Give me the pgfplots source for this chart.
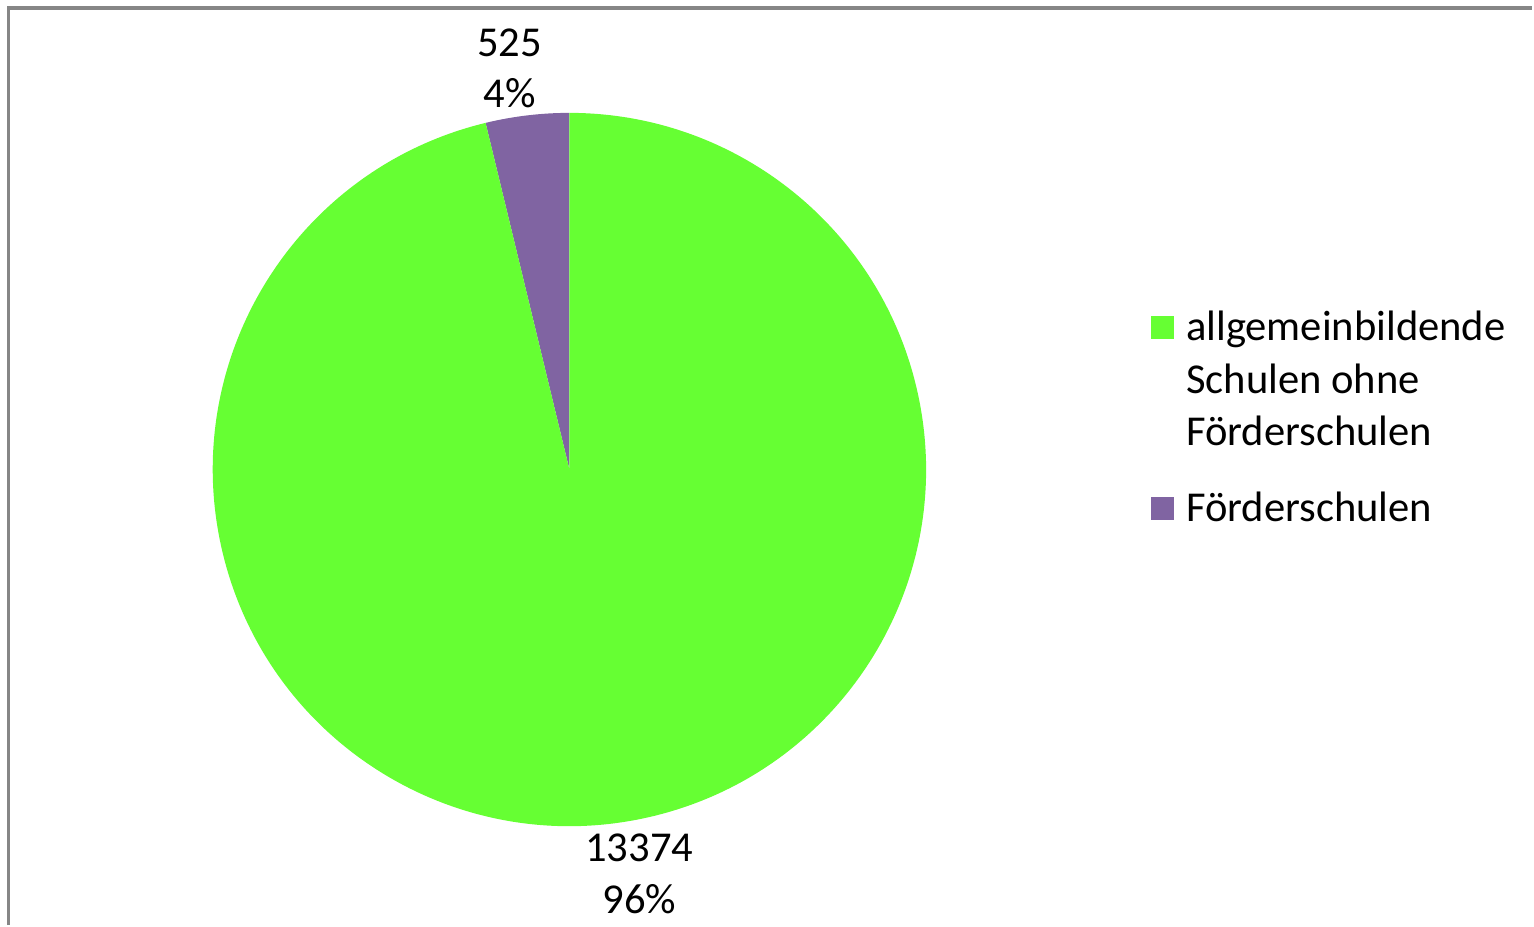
\documentclass[border=0pt]{standalone}
\usepackage{pgfplots}
\usepackage{pgfplotstable}
\usepackage{fontspec}
\setmainfont{Carlito}
\pgfplotsset{compat=1.18}

\definecolor{slicegreen}{HTML}{66FF33}
\definecolor{sliceviolet}{HTML}{8064A2}
\definecolor{framegray}{HTML}{868686}

% Schulen: count per type
\pgfplotstableread{
value
13374
525
}\schooldata

\begin{document}
\begin{tikzpicture}
\pgfplotstablegetelem{0}{value}\of\schooldata \let\va\pgfplotsretval
\pgfplotstablegetelem{1}{value}\of\schooldata \let\vb\pgfplotsretval
\pgfmathsetmacro{\share}{\vb/(\va+\vb)}
\pgfmathsetmacro{\angsplit}{90+360*\share}
\pgfmathsetmacro{\sx}{570+357*cos(\angsplit)}
\pgfmathsetmacro{\sy}{456+357*sin(\angsplit)}
\begin{axis}[
    width=767pt, height=463pt,
    scale only axis,
    xmin=0, xmax=1534,
    ymin=0, ymax=926,
    axis lines=none,
    clip=false,
    font=\fontsize{21.3}{25.5}\selectfont,
]
% page extent
\path (axis cs:0,0) rectangle (axis cs:1534,926);
% frame (left and top edges only)
\draw[framegray, line width=1.6pt] (axis cs:8.5,0) -- (axis cs:8.5,918) -- (axis cs:1534,918);

% slices
\fill[sliceviolet] (axis cs:570,456) -- (axis cs:570,813)
    arc[start angle=90, end angle=\angsplit, radius=357] -- cycle;
\fill[slicegreen] (axis cs:570,456) -- (axis cs:\sx,\sy)
    arc[start angle=\angsplit, end angle=450, radius=357] -- cycle;

% data labels
\node[anchor=base] at (axis cs:510,869) {525};
\node[anchor=base] at (axis cs:510,818) {4\%};
\node[anchor=base] at (axis cs:640,64) {13374};
\node[anchor=base] at (axis cs:640,12) {96\%};

% legend
\fill[slicegreen] (axis cs:1152,587) rectangle (axis cs:1175,610);
\node[anchor=base west, inner sep=0pt] at (axis cs:1187,585) {allgemeinbildende};
\node[anchor=base west, inner sep=0pt] at (axis cs:1187,532) {Schulen ohne};
\node[anchor=base west, inner sep=0pt] at (axis cs:1187,480) {Förderschulen};
\fill[sliceviolet] (axis cs:1152,405) rectangle (axis cs:1175,428);
\node[anchor=base west, inner sep=0pt] at (axis cs:1187,404) {Förderschulen};
\end{axis}
\end{tikzpicture}
\end{document}
